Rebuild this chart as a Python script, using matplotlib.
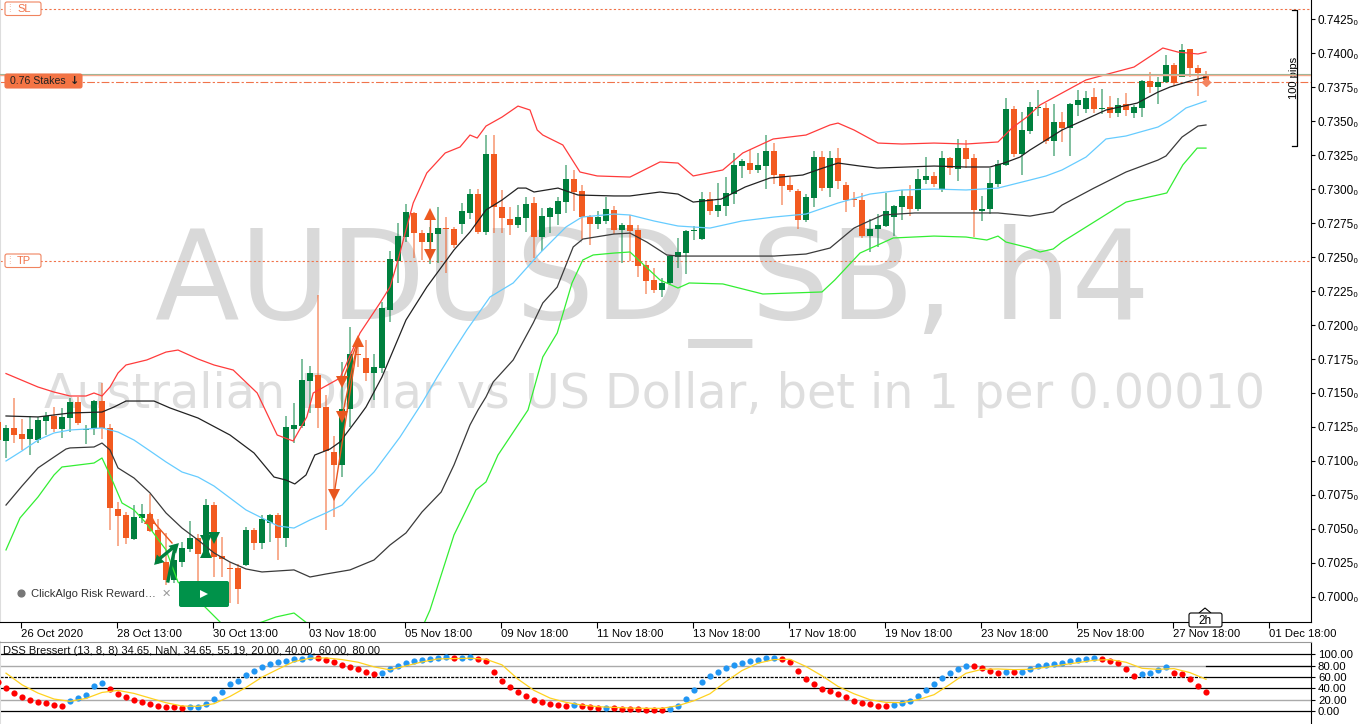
import numpy as np
import matplotlib
matplotlib.use("Agg")
import matplotlib.pyplot as plt
from matplotlib.patches import FancyBboxPatch, Circle, Polygon

plt.rcParams['font.family'] = ['Liberation Sans', 'DejaVu Sans']

# all prices in points (price * 100000), first candle is partly off screen
opens = [71290,
    71150, 71241, 71196, 71162, 71155, 71294, 71334, 71236, 71319, 71432,
    71228, 71241, 71439, 71241, 70645, 70601, 70427, 70584, 70611, 70493,
    70255, 70125, 70260, 70353, 70432, 70317, 70674, 70302, 70213, 70211,
    70236, 70493, 70400, 70547, 70601, 70437, 71236, 71260, 71589, 71633,
    71395, 71064, 70971, 71380, 71785, 71755, 71645, 71686, 72110, 72473,
    72650, 72821, 72674, 72613, 72669, 72712, 72706, 72743, 72826, 72963,
    72686, 73258, 72865, 72777, 72735, 72787, 72895, 72645, 72792, 72816,
    72907, 73071, 72983, 72792, 72743, 72765, 72846, 72699, 72736, 72699,
    72442, 72331, 72258, 72307, 72503, 72528, 72690, 72633, 72925, 72839,
    72876, 72964, 73172, 73189, 73140, 73170, 73280, 73111, 73030, 72986,
    72773, 72934, 73233, 73005, 73226, 73030, 72930, 72917, 72655, 72706,
    72729, 72792, 72866, 72949, 72851, 73067, 73095, 73000, 73228, 73149,
    73299, 73225, 72842, 72850, 73037, 73176, 73586, 73257, 73426, 73598,
    73593, 73355, 73490, 73446, 73615, 73588, 73674, 73590, 73600, 73561,
    73625, 73561, 73598, 73794, 73747, 73784, 73912, 73826, 74027, 73887,
    73845]
highs = [71326,
    71265, 71461, 71307, 71331, 71321, 71363, 71400, 71388, 71461, 71473,
    71265, 71449, 71571, 71270, 70701, 70628, 70677, 70684, 70755, 70571,
    70473, 70346, 70407, 70557, 70464, 70718, 70701, 70444, 70260, 70243,
    70513, 70505, 70603, 70611, 70616, 71331, 71429, 71748, 71699, 72221,
    71486, 71184, 71731, 71983, 71914, 71890, 71785, 72172, 72547, 72748,
    72890, 72833, 72699, 72723, 72870, 72792, 72718, 72895, 72998, 72998,
    73397, 73397, 72993, 72865, 72883, 72944, 72944, 72858, 72865, 72944,
    73177, 73140, 73030, 72809, 72841, 72944, 72876, 72753, 72809, 72736,
    72466, 72422, 72344, 72515, 72638, 72699, 72729, 72981, 72981, 73042,
    73091, 73263, 73219, 73287, 73263, 73398, 73336, 73111, 73091, 72998,
    72964, 73282, 73282, 73282, 73300, 73050, 72979, 72969, 72778, 72817,
    72974, 72880, 72993, 73030, 73145, 73238, 73127, 73282, 73238, 73365,
    73360, 73257, 72948, 73152, 73213, 73667, 73610, 73568, 73642, 73728,
    73635, 73625, 73568, 73630, 73728, 73723, 73740, 73733, 73684, 73667,
    73703, 73618, 73801, 73858, 73826, 73985, 73924, 74066, 74027, 73912,
    73870]
lows = [71130,
    71020, 71130, 71081, 71044, 71130, 71192, 71216, 71167, 71216, 71265,
    71125, 71192, 71160, 70493, 70378, 70390, 70419, 70547, 70481, 70243,
    70089, 70101, 70218, 70334, 70113, 70297, 70150, 70150, 69954, 69949,
    70230, 70346, 70351, 70407, 70272, 70370, 71130, 71241, 71356, 71241,
    70493, 70591, 70885, 71253, 71694, 71591, 71449, 71645, 72025, 72311,
    72613, 72490, 72478, 72449, 72454, 72385, 72564, 72669, 72777, 72669,
    72662, 72674, 72674, 72662, 72711, 72686, 72490, 72547, 72674, 72735,
    72826, 72841, 72630, 72588, 72704, 72743, 72670, 72459, 72474, 72356,
    72228, 72233, 72209, 72295, 72422, 72376, 72626, 72626, 72809, 72792,
    72802, 72890, 73079, 73111, 73116, 72998, 73037, 72883, 72981, 72704,
    72760, 72866, 72988, 72939, 72998, 72834, 72866, 72638, 72540, 72577,
    72724, 72655, 72773, 72802, 72841, 73037, 73017, 72980, 73103, 73061,
    73152, 72649, 72767, 72816, 73012, 73169, 73238, 73103, 73404, 73537,
    73331, 73242, 73348, 73242, 73537, 73561, 73556, 73551, 73524, 73532,
    73537, 73519, 73527, 73703, 73625, 73777, 73757, 73821, 73821, 73686,
    73790]
closes = [71155,
    71241, 71192, 71162, 71233, 71302, 71334, 71236, 71326, 71432, 71277,
    71236, 71442, 71241, 70652, 70596, 70437, 70586, 70611, 70486, 70255,
    70125, 70272, 70358, 70432, 70317, 70677, 70297, 70277, 70205, 70059,
    70493, 70400, 70574, 70601, 70437, 71248, 71265, 71596, 71645, 71393,
    71076, 70971, 71380, 71787, 71778, 71645, 71689, 72123, 72483, 72655,
    72829, 72679, 72613, 72674, 72711, 72704, 72588, 72838, 72963, 72686,
    73258, 72865, 72787, 72735, 72792, 72890, 72645, 72802, 72858, 72912,
    73071, 72978, 72792, 72743, 72792, 72854, 72699, 72736, 72694, 72437,
    72327, 72258, 72312, 72510, 72537, 72692, 72697, 72925, 72839, 72880,
    72969, 73177, 73206, 73140, 73177, 73280, 73104, 73023, 72993, 72773,
    72939, 73233, 73008, 73226, 73059, 72920, 72922, 72655, 72704, 72736,
    72839, 72876, 72949, 72851, 73072, 73096, 73037, 73228, 73152, 73299,
    73220, 72845, 72850, 73042, 73181, 73586, 73257, 73434, 73600, 73606,
    73355, 73490, 73451, 73625, 73654, 73667, 73586, 73598, 73561, 73620,
    73581, 73600, 73796, 73747, 73789, 73912, 73777, 74022, 73887, 73850,
    73800]

band_upper = [(0, 71643), (4, 71544), (6, 71507), (8, 71478), (10, 71478), (11, 71500), (12, 71478), (13, 71544),
    (14, 71647), (15, 71706), (17.6, 71743), (20, 71801), (21.5, 71816), (24, 71750), (26, 71706), (28.4, 71669),
    (31.4, 71500), (33.9, 71191), (35.9, 71147), (37.6, 71324), (38.4, 71500), (41.75, 71610), (42.6, 71721),
    (44.25, 71941), (46.75, 72162), (48, 72279), (48.9, 72456), (50.9, 72897), (52.6, 73118), (54.9, 73265),
    (56.75, 73309), (58, 73397), (58.9, 73375), (60, 73463), (62, 73529), (64, 73610), (65.5, 73581), (66.4, 73434),
    (67.1, 73397), (69.6, 73324), (71.75, 73125), (73.9, 73096), (78, 73088), (81.75, 73199), (84, 73191),
    (85.9, 73096), (89.6, 73140), (92.1, 73265), (95.9, 73368), (100, 73397), (103, 73471), (104, 73485),
    (106, 73434), (109, 73338), (112, 73331), (116, 73338), (120, 73331), (124, 73346), (125.75, 73449),
    (127.6, 73529), (129.25, 73618), (132, 73706), (135, 73802), (137.75, 73846), (141, 73897), (144.6, 74037),
    (146.5, 74007), (149, 73993), (150, 74007)]
band_mid = [(0, 71331), (4, 71324), (8, 71353), (12, 71360), (13.5, 71397), (15, 71441), (18.5, 71441), (20.5, 71390),
    (24, 71316), (28, 71191), (31, 71059), (33.5, 70882), (35, 70860), (36.1, 70831), (37.5, 70897), (38.6, 71044),
    (40.5, 71088), (41.75, 71140), (44, 71316), (45, 71397), (47, 71618), (50, 72037), (52.6, 72279), (56, 72552),
    (58, 72684), (60, 72846), (62, 72919), (64, 73007), (65, 73007), (66, 72978), (69, 73007), (71.5, 72956),
    (76, 72949), (78, 72949), (81.75, 72978), (84, 72963), (85.9, 72904), (89.4, 72926), (92.4, 73015), (95.5, 73081),
    (99.6, 73103), (101.75, 73147), (104, 73191), (106.75, 73169), (108.9, 73154), (116, 73169), (120, 73162),
    (123, 73162), (124.75, 73191), (126.75, 73235), (128, 73287), (130, 73360), (132, 73434), (134.75, 73507),
    (137.5, 73581), (141.4, 73632), (144, 73713), (145.5, 73750), (148, 73794), (150, 73824)]
band_blue = [(0, 71000), (2, 71074), (4, 71154), (6, 71206), (8, 71228), (10, 71235), (12, 71243), (14, 71213),
    (16, 71154), (18, 71074), (20, 70993), (22, 70919), (24, 70882), (26, 70816), (28, 70728), (30, 70640),
    (32, 70581), (34, 70522), (36, 70507), (38, 70566), (40, 70618), (42, 70676), (44, 70801), (46, 70919),
    (49.25, 71176), (52, 71426), (53.9, 71618), (56, 71816), (57.6, 71963), (60.5, 72206), (63.4, 72309),
    (66.75, 72529), (70, 72721), (72, 72794), (76, 72816), (78, 72809), (81, 72765), (84, 72728), (88, 72713),
    (92, 72765), (96, 72794), (100, 72816), (104, 72897), (108, 72963), (112, 72993), (116, 73000), (120, 72993),
    (124, 73007), (128, 73066), (130, 73096), (132, 73140), (135, 73235), (137.5, 73368), (140, 73390),
    (144, 73456), (145.5, 73507), (147.5, 73596), (150, 73647)]
band_low = [(0, 70676), (2, 70816), (4, 70949), (6, 71029), (7.5, 71088), (8, 71096), (11, 71103), (12, 71132),
    (13, 71081), (14, 70949), (16, 70875), (18, 70765), (20, 70618), (22, 70507), (24, 70419), (26, 70324),
    (28, 70257), (30, 70206), (32, 70184), (36, 70199), (38, 70147), (40, 70169), (43, 70199), (46, 70272),
    (48, 70382), (50, 70471), (52, 70625), (54.4, 70772), (56, 70971), (58, 71265), (59, 71375), (60, 71471),
    (60.9, 71581), (63.4, 71743), (65.9, 72015), (67.1, 72162), (68.9, 72279), (70.9, 72574), (72.1, 72632),
    (76, 72669), (78, 72676), (80.1, 72610), (82.6, 72515), (84, 72507), (96, 72507), (100, 72522), (103, 72566),
    (106, 72713), (107.6, 72757), (109.6, 72809), (113.6, 72824), (124, 72824), (128, 72801), (130.9, 72831),
    (132, 72882), (136, 73007), (140, 73125), (144, 73213), (145, 73243), (147, 73382), (149, 73463), (150, 73471)]
band_lower = [(0, 70346), (1.75, 70581), (4, 70735), (6, 70897), (7, 70956), (8, 70963), (11, 70985), (12, 71022),
    (13, 70897), (14.5, 70691), (16, 70640), (17.5, 70544), (20, 70346), (21.5, 70110), (24, 69978), (28, 69743),
    (32, 69816), (33.75, 69853), (36, 69882), (37.6, 69809), (44, 69610), (48, 69610), (52, 69772), (53, 69904),
    (56, 70456), (58.75, 70787), (60, 70846), (61.5, 71044), (65.25, 71375), (67.1, 71765), (68.9, 71941),
    (70.75, 72309), (72.1, 72478), (73.4, 72515), (76, 72529), (78, 72537), (81.75, 72331), (84, 72272),
    (85.4, 72309), (89.6, 72302), (94.6, 72228), (102, 72243), (103.6, 72331), (106.75, 72529), (110.9, 72640),
    (116, 72654), (120, 72647), (122.6, 72625), (124, 72654), (125, 72610), (128, 72566), (129.25, 72537),
    (130.9, 72559), (132, 72610), (136, 72757), (140, 72904), (144, 72956), (145.1, 72971), (147.1, 73177),
    (148.9, 73301), (150, 73301)]

# trade markers on the chart: (candle, price in points)
trade_up = [(53, 72816), (44, 71882), (18, 70581)]
trade_down = [(53, 72515), (42, 71581), (42, 71324), (41, 70750)]
trade_links = [((53, 72816), (53, 72515)), ((41, 70750), (44, 71882)),
               ((42, 71324), (44, 71882)), ((42, 71581), (44, 71882)),
               ((18, 70581), (20.75, 70397))]
closed_up = [(25, 70331)]
closed_down = [(26, 70434), (25, 70412)]
closed_tilted = [(19, 70272, 135), (21, 70368, -45)]
closed_links = [((19, 70272), (21, 70368)), ((20.25, 70118), (21, 70330))]

sl_price = 0.74324
tp_price = 0.72468
pos_price = 0.73849
ask_price = 0.73789
pips_top = 0.74316
pips_bottom = 0.73316

price_ticks = [0.7000 + 0.0025 * i for i in range(18)]
date_labels = ["26 Oct 2020", "28 Oct 13:00", "30 Oct 13:00", "03 Nov 18:00", "05 Nov 18:00",
               "09 Nov 18:00", "11 Nov 18:00", "13 Nov 18:00", "17 Nov 18:00", "19 Nov 18:00",
               "23 Nov 18:00", "25 Nov 18:00", "27 Nov 18:00", "01 Dec 18:00"]

# DSS dots, one per candle
dss_main = [50.9,
    40.4, 31.6, 24.6, 19.3, 15.8, 13.5, 11.1, 9.4, 18.1, 23.4,
    28.1, 43.9, 48.5, 39.2, 30.4, 24.0, 19.3, 15.8, 11.7, 9.4,
    7.6, 6.4, 5.3, 6.4, 6.4, 12.9, 20.5, 33.3, 47.4, 53.2,
    63.7, 71.3, 77.8, 82.5, 86.5, 88.9, 91.2, 92.4, 94.7, 94.2,
    90.6, 87.1, 81.3, 77.2, 74.3, 69.0, 65.5, 67.3, 74.3, 80.1,
    84.8, 87.7, 90.1, 92.4, 93.6, 94.7, 93.6, 94.2, 95.3, 91.8,
    87.7, 68.4, 53.2, 41.5, 32.7, 25.7, 19.9, 15.8, 12.9, 9.9,
    9.7, 9.9, 8.2, 7.0, 5.8, 5.8, 5.3, 4.1, 3.5, 2.9,
    2.3, 1.8, 1.6, 4.1, 9.4, 21.0, 36.8, 50.9, 61.4, 69.6,
    76.0, 81.3, 85.4, 87.7, 90.1, 93.0, 93.0, 91.2, 86.0, 71.3,
    55.6, 47.4, 38.6, 34.5, 30.4, 24.0, 18.1, 14.6, 11.7, 9.4,
    8.2, 9.9, 14.0, 17.5, 25.7, 36.3, 47.4, 58.8, 67.6, 74.1,
    80.0, 79.4, 75.3, 70.0, 67.6, 69.4, 68.8, 69.4, 74.7, 79.4,
    81.8, 83.5, 85.3, 88.2, 90.0, 91.8, 92.9, 91.8, 88.2, 85.3,
    74.1, 62.4, 64.7, 67.6, 72.4, 78.2, 66.5, 65.9, 56.5, 44.1,
    34.1]
# DSS signal, every 2nd candle
dss_signal = [66.7, 46.2, 31.6, 21.1, 17.0, 22.2, 32.7, 36.3, 31.0, 22.8, 14.6, 8.8, 8.2,
    12.9, 25.7, 41.5, 59.6, 73.7, 87.1, 93.0, 93.6, 90.6, 86.0, 77.8, 72.5, 79.5,
    86.5, 91.8, 92.4, 93.0, 91.2, 81.3,
    56.1, 36.3, 22.8, 15.2, 10.5, 7.6, 6.4, 5.3, 4.7, 4.7, 9.4, 18.1, 30.4, 52.0,
    71.3, 84.2, 90.6, 91.2, 78.4, 62.0, 43.3, 30.4, 19.9, 15.2, 14.6, 19.9, 28.7,
    47.1, 66.5, 73.5, 74.1, 72.9, 73.5, 77.1, 81.2, 85.3, 89.4, 90.6, 85.9, 75.3,
    73.5, 74.7, 67.6, 55.9]
dss_levels = [0, 20, 40, 60, 80, 100]

GREEN = "#00803e"
ORANGE = "#f25a20"

fig = plt.figure(figsize=(13.61, 7.24), dpi=100)
W, H = 1361.0, 724.0
ax = fig.add_axes([0, 1 - 622 / H, 1311 / W, 622 / H])
ax2 = fig.add_axes([0, 0, 1311 / W, (H - 642) / H])

o = np.array(opens) / 1e5
h = np.array(highs) / 1e5
l = np.array(lows) / 1e5
c = np.array(closes) / 1e5
xs = np.arange(-1, len(o) - 1)
up = c >= o
colors = np.where(up, GREEN, ORANGE)

# watermark
ax.text(0.4977, 1 - 319 / 622, "AUDUSD_SB, h4", transform=ax.transAxes, ha='center', va='baseline',
        fontsize=89, color="#d9d9d9", family='DejaVu Sans', zorder=0)
ax.text(0.4996, 1 - 408 / 622, "Australian Dollar vs US Dollar, bet in 1 per 0.00010", transform=ax.transAxes,
        ha='center', va='baseline', fontsize=34.3, color="#dedede", family='DejaVu Sans', zorder=0)

# candles
ax.vlines(xs, l, h, colors=colors, linewidth=1.4, alpha=0.5, zorder=2)
ax.bar(xs, np.maximum(np.abs(c - o), 0.00001), bottom=np.minimum(o, c), width=0.7, color=colors, linewidth=0, zorder=3)

# bands
for band, col in [(band_upper, "#ff3b3b"), (band_mid, "#222222"), (band_blue, "#66ccff"),
                  (band_low, "#3a3a3a"), (band_lower, "#33ee33")]:
    ax.plot([p[0] for p in band], [p[1] / 1e5 for p in band], color=col, lw=0.9, zorder=4)

# order lines
ax.axhline(sl_price, color="#f0734a", lw=0.8, ls=(0, (2, 2)), zorder=1)
ax.axhline(tp_price, color="#f0734a", lw=0.8, ls=(0, (2, 2)), zorder=1)
ax.axhline(ask_price, color="#f0734a", lw=0.8, ls=(0, (7, 2, 2, 2)), zorder=1)
ax.axhline(pos_price, color="#8fb89a", lw=0.8, zorder=5)
ax.axhline(pos_price - 0.00011, color="#f5a98c", lw=1.0, zorder=5)
ax.plot([xs[-1]], [ask_price], marker='D', ms=4, color="#f4845f", zorder=6)

# trade arrows
for a, b in trade_links:
    ax.plot([a[0], b[0]], [a[1] / 1e5, b[1] / 1e5], color="#e8561f", lw=1.0, zorder=6)
for a, b in closed_links:
    ax.plot([a[0], b[0]], [a[1] / 1e5, b[1] / 1e5], color=GREEN, lw=2.4, zorder=6)
for k, p in trade_up:
    ax.plot([k], [p / 1e5], marker='^', ms=8, color="#ee5a20", mew=0, zorder=7)
for k, p in trade_down:
    ax.plot([k], [p / 1e5], marker='v', ms=8, color="#e8561f", mew=0, zorder=7)
for k, p in closed_up:
    ax.plot([k], [p / 1e5], marker='^', ms=9, color=GREEN, mew=0, zorder=7)
for k, p in closed_down:
    ax.plot([k], [p / 1e5], marker='v', ms=9, color=GREEN, mew=0, zorder=7)
for k, p, ang in closed_tilted:
    ax.plot([k], [p / 1e5], marker=(3, 0, ang), ms=9, color=GREEN, mew=0, zorder=7)

# 100 pips bracket
bx = 161.4
ax.plot([bx - 0.7, bx, bx, bx - 0.7], [pips_top, pips_top, pips_bottom, pips_bottom], color='black', lw=0.9, zorder=5, clip_on=False)
ax.text(bx - 0.45, (pips_top + pips_bottom) / 2, "100 pips", rotation=90, ha='center', va='center', fontsize=8, color='black')

ax.set_xlim(-0.75, 163.125)
ax.set_ylim(0.69816, 0.74390)
ax.yaxis.tick_right()
ax.set_yticks(price_ticks)
ax.set_yticklabels(["%.4f₀" % v for v in price_ticks], fontsize=8.5)
ax.tick_params(axis='y', length=3, width=0.8, pad=2)
ax.set_xticks([1.875 + 12 * i for i in range(len(date_labels))])
ax.set_xticklabels(date_labels, fontsize=8.1, ha='left')
ax.tick_params(axis='x', length=4, width=0.8, pad=1)
ax.spines['top'].set_visible(False)
ax.spines['left'].set_color("#dddddd")
ax.spines['left'].set_linewidth(1.5)

# lower panel
ax2.axhline(100, color='black', lw=0.9, zorder=1)
ax2.axhline(80, color="#aaaaaa", lw=1.0, zorder=1)
ax2.plot([150, 163.125], [80, 80], color='black', lw=0.9, zorder=1)
ax2.plot([-0.75, 150], [60, 60], color='black', lw=0.9, ls=(0, (2.5, 1)), zorder=1)
ax2.plot([150, 163.125], [60, 60], color='black', lw=0.9, zorder=1)
ax2.axhline(40, color='black', lw=0.9, zorder=1)
ax2.axhline(20, color="#aaaaaa", lw=1.0, zorder=1)
ax2.axhline(0, color='black', lw=0.9, zorder=1)

dss = np.array(dss_main)
dx = np.arange(-1, len(dss) - 1)
rising = np.r_[False, np.diff(dss) >= 0]
ax2.scatter(dx[~rising], dss[~rising], s=20, color="#ff0000", linewidths=0, zorder=3)
ax2.scatter(dx[rising], dss[rising], s=20, color="#2196f3", linewidths=0, zorder=3)
ax2.plot(np.arange(0, 151, 2), dss_signal, color="#ffd21f", lw=0.9, zorder=4)
ax2.text(0.002, 0.89, "DSS Bressert (13, 8, 8) 34.65, NaN, 34.65, 55.19, 20.00, 40.00, 60.00, 80.00",
         transform=ax2.transAxes, fontsize=8, va='center', ha='left', color='#111111', zorder=5)

ax2.set_xlim(-0.75, 163.125)
ax2.set_ylim(-22.9, 121.6)
ax2.set_xticks([])
ax2.yaxis.tick_right()
ax2.set_yticks(dss_levels)
ax2.set_yticklabels(["%.2f" % v for v in dss_levels], fontsize=8.2)
ax2.tick_params(axis='y', length=3, width=0.8, pad=2)
ax2.spines['bottom'].set_visible(False)
ax2.spines['left'].set_color("#dddddd")
ax2.spines['left'].set_linewidth(1.5)
ax2.spines['top'].set_color("#999999")

# cTrader widgets drawn on top, in screen pixels
ui = fig.add_axes([0, 0, 1, 1], zorder=10)
ui.set_xlim(0, W)
ui.set_ylim(H, 0)
ui.axis('off')
ui.patch.set_alpha(0)


def label_box(x0, y0, x1, y1, face, edge):
    ui.add_patch(FancyBboxPatch((x0 + 1, y0 + 1), x1 - x0 - 2, y1 - y0 - 2, boxstyle="round,pad=1,rounding_size=2",
                                facecolor=face, edgecolor=edge, lw=0.8))


label_box(5, 2, 41, 15.5, 'white', "#f0845f")
ui.text(24, 8.5, "SL", fontsize=8, color="#f0734a", ha='center', va='center')
ui.text(9, 8.5, "⁞", fontsize=7, color="#f0a58a", ha='center', va='center')
label_box(5, 254, 41, 267.5, 'white', "#f0845f")
ui.text(24, 260.5, "TP", fontsize=8, color="#f0734a", ha='center', va='center')
ui.text(9, 260.5, "⁞", fontsize=7, color="#f0a58a", ha='center', va='center')
label_box(5, 74, 82, 88, "#f47444", "#f0734a")
ui.text(38, 81, "0.76 Stakes", fontsize=7.6, color="#222222", ha='center', va='center')
ui.text(74.5, 81, "↓", fontsize=8, color="#222222", ha='center', va='center', fontweight='bold', family='DejaVu Sans')

# 2h countdown tag
ui.add_patch(Polygon([[1199, 613], [1205, 608], [1211, 613]], closed=False, facecolor='white', edgecolor='black', lw=0.8))
label_box(1189, 613, 1222, 627, 'white', 'black')
ui.text(1205.5, 620.5, "2h", fontsize=8.5, ha='center', va='center')

# ClickAlgo panel
ui.add_patch(Circle((21.5, 593.5), 3.4, color="#777777"))
ui.text(31, 594, "ClickAlgo Risk Reward…", fontsize=8.1, color="#333333", va='center', ha='left')
ui.text(166, 594, "✕", fontsize=8, color="#999999", va='center', ha='center', family='DejaVu Sans')
ui.add_patch(FancyBboxPatch((181, 583), 46, 22, boxstyle="round,pad=2,rounding_size=2", facecolor="#00924a", edgecolor='none'))
ui.add_patch(Polygon([[200, 590], [200, 598], [208, 594]], closed=True, facecolor='white', edgecolor='none'))

fig.savefig("out.png", dpi=100)
